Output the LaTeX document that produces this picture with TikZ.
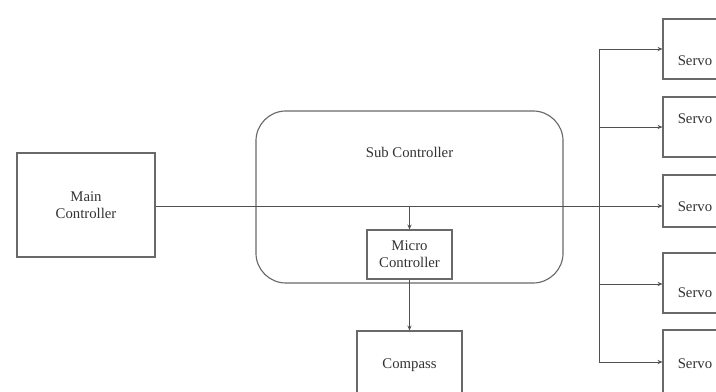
\documentclass[tikz,border=0pt]{standalone}
\usepackage{fontspec}
\setmainfont{Liberation Serif}
\usepackage{tikz}
\usetikzlibrary{arrows.meta,positioning}
\definecolor{boxgray}{RGB}{105,105,105}
\definecolor{linegray}{RGB}{80,80,80}

\begin{document}
\begin{tikzpicture}[x=0.025cm, y=-0.025cm, every node/.style={font=\fontsize{10.5}{12}\selectfont, text=black!80}]
    % Define styles
    \tikzset{
        box/.style={rectangle, draw=boxgray, line width=0.8pt, align=center, inner sep=0pt},
        mainbox/.style={box, minimum width=3.45cm, minimum height=2.6cm},
        subbox/.style={box, rounded corners=0.75cm, minimum width=7.675cm, minimum height=4.3cm},
        microbox/.style={box, minimum width=2.125cm, minimum height=1.225cm},
        compassbox/.style={box, minimum width=2.625cm, minimum height=1.7cm},
        servobox/.style={box, minimum width=1.6cm},
        link/.style={draw=linegray, line width=0.7pt},
        arrow/.style={link, -{Stealth[length=3.5pt,width=3pt]}}
    }
    \clip (0,0) rectangle (716,392);

    % Components
    \node[mainbox] (main) at (86,205) {Main\\Controller};
    \node[subbox] (sub) at (409.5,197) {};
    \node[below=0.8cm of sub.north] (subtitle) {Sub Controller};
    \node[microbox] (micro) at (409.5,254.5) {Micro\\Controller};
    \node[compassbox] (compass) at (409.5,365) {Compass};

    \node[servobox, minimum height=1.5cm, label={[yshift=-0.28cm]center:Servo}] (s1) at (695,49) {};
    \node[servobox, minimum height=1.5cm, label={[yshift=0.22cm]center:Servo}] (s2) at (695,127) {};
    \node[servobox, minimum height=1.3cm, label={[yshift=-0.15cm]center:Servo}] (s3) at (695,201) {};
    \node[servobox, minimum height=1.5cm, label={[yshift=-0.25cm]center:Servo}] (s4) at (695,283) {};
    \node[servobox, minimum height=1.6cm, label={[yshift=-0.05cm]center:Servo}] (s5) at (695,362) {};

    % Bus
    \coordinate (jn) at (599,206);
    \coordinate (b1) at (599,49);
    \coordinate (b2) at (599,127);
    \coordinate (b4) at (599,284);
    \coordinate (b5) at (599,362);
    \coordinate (tap) at (micro.north |- jn);

    % Arrows
    \draw[link] (main.east |- jn) -- (jn);
    \draw[link] (b1) -- (b5);
    \draw[arrow] (b1) -- (b1 -| s1.west);
    \draw[arrow] (b2) -- (b2 -| s2.west);
    \draw[arrow] (jn) -- (jn -| s3.west);
    \draw[arrow] (b4) -- (b4 -| s4.west);
    \draw[arrow] (b5) -- (b5 -| s5.west);
    \draw[arrow] (tap) -- (micro.north);
    \draw[arrow] (micro.south) -- (compass.north);
\end{tikzpicture}
\end{document}
